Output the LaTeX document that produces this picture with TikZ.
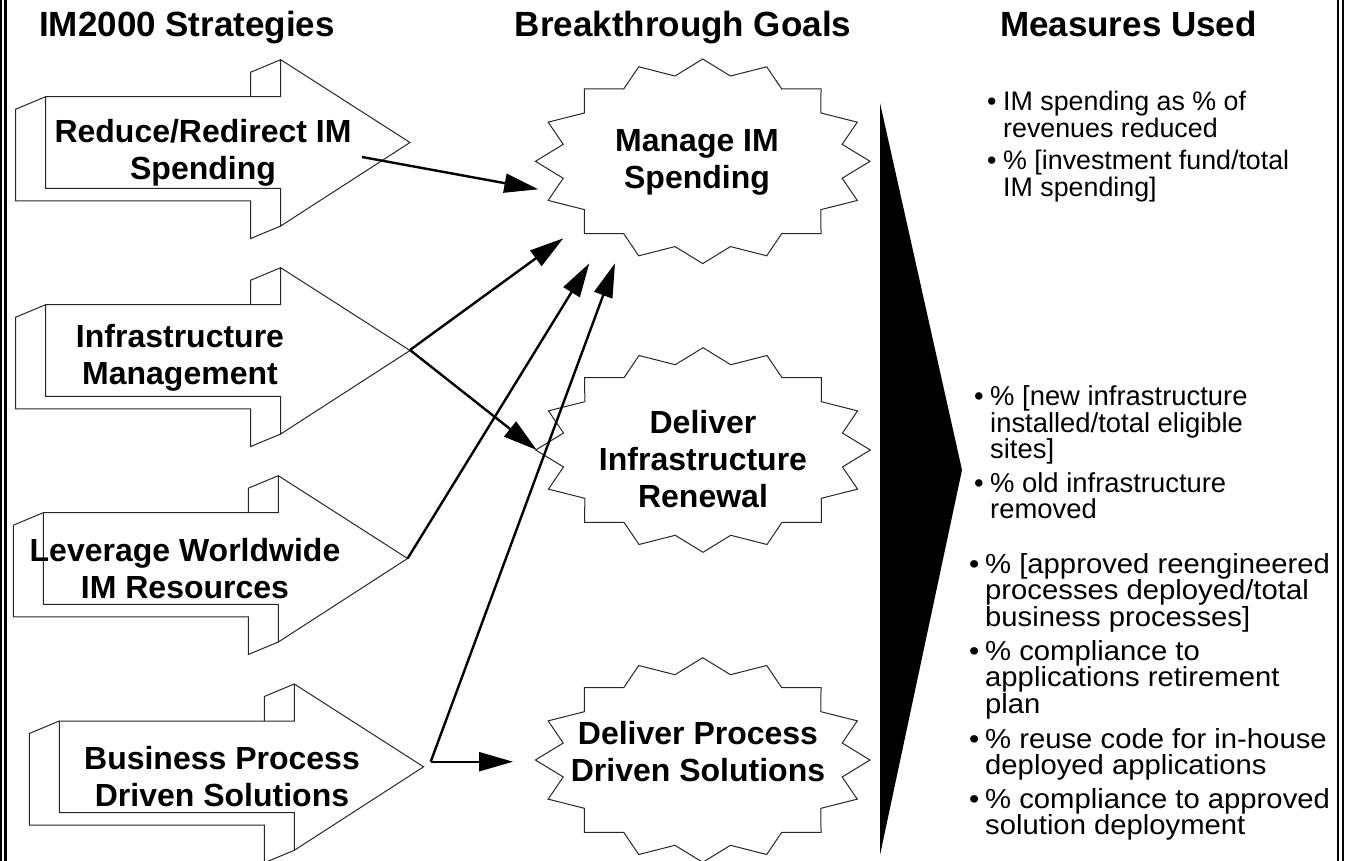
\documentclass[tikz,border=0pt]{standalone}
\usepackage{fontspec}
\setmainfont{Liberation Sans}
\newfontfamily\widesans[FakeStretch=1.06]{Liberation Sans}
\usetikzlibrary{arrows.meta}
\newcommand\blockarrow[2]{%
\begin{scope}[shift={(#1,#2)}]
 \fill[white] (-30,12.5) -- (0,0) -- (205,0) -- (205,-24.5) -- (235,-37) -- (364.3,45.8) -- (235,129.3) -- (205,141.8) -- (205,104.1) -- (-30,104.1) -- cycle;
 \draw[edge] (0,0) -- (235,0) -- (235,-37) -- (364.3,45.8) -- (235,129.3) -- (235,91.6) -- (0,91.6) -- cycle;
 \draw[edge] (0,0) -- (-30,12.5) -- (-30,104.1) -- (205,104.1) -- (205,141.8) -- (235,129.3);
 \draw[edge] (205,0) -- (205,-24.5) -- (235,-37);
\end{scope}}
\newcommand\burst[2]{%
 \draw[edge,fill=white] plot[samples at={0,...,31}, variable=\k]
   ({#1+(mod(\k,2)==0?1:0.85)*167.3*cos(\k*11.25)},
    {#2+(mod(\k,2)==0?1:0.85)*102.3*sin(\k*11.25)}) -- cycle;}
\newcommand\bitem[1]{\makebox[16pt][l]{\textbullet}\parbox[t]{360pt}{\raggedright #1}}
\begin{document}
\begin{tikzpicture}[x=1pt,y=-1pt,
  edge/.style={line width=1pt, draw=black!85, line join=miter},
  conn/.style={line width=2.4pt, -{Triangle[length=34pt,width=19pt]}},
  title/.style={font=\fontsize{35}{40}\selectfont\bfseries, inner sep=0pt},
  blabel/.style={font=\fontsize{32}{37}\selectfont\bfseries, align=center, inner sep=0pt},
  measure/.style={anchor=base west, inner sep=0pt},
  mone/.style={measure, font=\fontsize{26.8}{26.5}\selectfont},
  mtwo/.style={measure, font=\fontsize{27.4}{26.5}\selectfont},
  mthree/.style={measure, font=\widesans\fontsize{27.6}{26.6}\selectfont},
]
\useasboundingbox (0,0) rectangle (1346,861);
% frame lines
\draw[line width=1.6pt] (0.8,0) -- (0.8,861);
\draw[line width=2.7pt] (5.4,0) -- (5.4,861);
\draw[line width=2.6pt] (1338,0) -- (1338,861);
\draw[line width=2.3pt] (1342.8,0) -- (1342.8,861);
% titles
\node[title, anchor=base west] (h1) at (39,37) {IM2000 Strategies};
\node[title, anchor=base] (h2) at (683,37) {Breakthrough Goals};
\node[title, anchor=base east] (h3) at (1257,37) {Measures Used};
% strategy arrows
\blockarrow{45.7}{96.7}
\blockarrow{45.7}{304.7}
\blockarrow{43.3}{512.7}
\blockarrow{59.3}{721}
\node[blabel] (s1) at (203,152.5) {Reduce/Redirect IM\\Spending};
\node[blabel] (s2) at (180,358) {Infrastructure\\Management};
\node[blabel] (s3) at (185,568.5) {Leverage Worldwide\\IM Resources};
\node[blabel] (s4) at (222,777) {Business Process\\Driven Solutions};
% goal bursts
\burst{702.7}{161.3}
\burst{703}{450}
\burst{702.7}{760}
\node[blabel] (g1) at (697,162.6) {Manage IM\\Spending};
\node[blabel] (g2) at (703,459) {Deliver\\Infrastructure\\Renewal};
\node[blabel] (g3) at (698,752) {Deliver Process\\Driven Solutions};
% big black arrow
\fill (880,103) -- (962,470) -- (880,855) -- cycle;
% connectors
\coordinate (t1) at (362,157);
\coordinate (t2) at (410,350);
\coordinate (t3) at (407.6,558.5);
\coordinate (t4) at (430.7,761.7);
\coordinate (e1) at (538.3,189.3);
\coordinate (e2) at (563.3,238.3);
\coordinate (e3) at (589.3,263.3);
\coordinate (e4) at (615,263.3);
\coordinate (e5) at (536.7,450);
\coordinate (e6) at (513,761.7);
\draw[conn] (t1) -- (e1);
\draw[conn] (t2) -- (e2);
\draw[conn] (t3) -- (e3);
\draw[conn] (t4) -- (e4);
\draw[conn] (t2) -- (e5);
\draw[conn] (t4) -- (e6);
% measures
\node[mone] (m1) at (987,111) {\bitem{IM spending as \% of\\revenues reduced}};
\node[mone] (m2) at (987,170) {\bitem{\% [investment fund/total\\IM spending]}};
\node[mtwo] (m3) at (974,405.5) {\bitem{\% [new infrastructure\\installed/total eligible\\sites]}};
\node[mtwo] (m4) at (974,492) {\bitem{\% old infrastructure\\removed}};
\node[mthree] (m5) at (969,573) {\bitem{\% [approved reengineered\\processes deployed/total\\business processes]}};
\node[mthree] (m6) at (969,660) {\bitem{\% compliance to\\applications retirement\\plan}};
\node[mthree] (m7) at (969,748) {\bitem{\% reuse code for in-house\\deployed applications}};
\node[mthree] (m8) at (969,808) {\bitem{\% compliance to approved\\solution deployment}};
\end{tikzpicture}
\end{document}
